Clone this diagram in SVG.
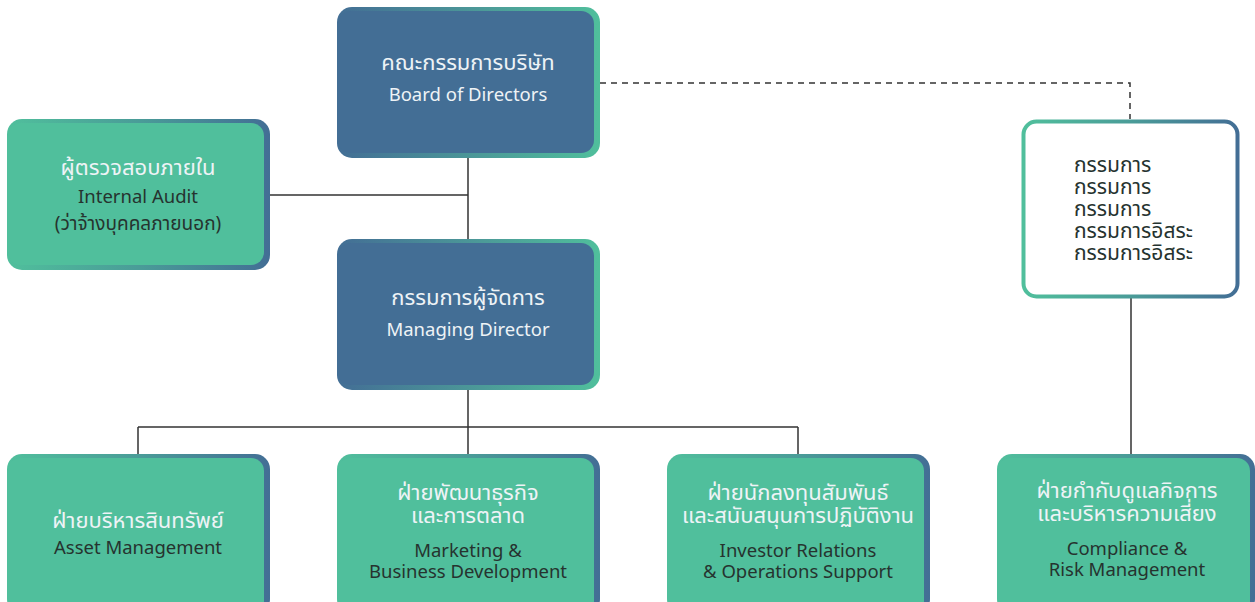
<svg xmlns="http://www.w3.org/2000/svg" width="1255" height="602" viewBox="0 0 1255 602">
<defs>
<linearGradient id="gBlue" x1="0" y1="0" x2="1" y2="0">
<stop offset="0" stop-color="#436E95"/><stop offset="0.55" stop-color="#4C9A98"/><stop offset="1" stop-color="#50BF9C"/>
</linearGradient>
<linearGradient id="gGreen" x1="0" y1="0" x2="1" y2="0">
<stop offset="0" stop-color="#50BF9C"/><stop offset="0.5" stop-color="#4A9C98"/><stop offset="1" stop-color="#436E95"/>
</linearGradient>
<style>
.fb{fill:#436E95}
.fg{fill:#50BF9C}
.th{font-family:"Noto Sans Thai","Noto Sans","DejaVu Sans",sans-serif;font-size:22px;text-anchor:middle}
.en{font-family:"Noto Sans","Open Sans",sans-serif;font-size:18.5px;text-anchor:middle}
.w{fill:#EEF3F6}
.d{fill:#26332F}
.ln{stroke:#333;stroke-width:1.5;fill:none}
.cm{font-family:"Noto Sans Thai","Noto Sans","DejaVu Sans",sans-serif;font-size:21px}
</style>
</defs>
<g id="connectors">
<path class="ln" d="M468 158V240M270 195H468M468 390V427M138 427H798M138 427V455M468 427V455M798 427V455M1131 298V455"/>
<path class="ln" stroke-dasharray="6 5" d="M600 83H1130V119"/>
</g>
<g id="board">
<rect x="337" y="7" width="263" height="151" rx="15" fill="url(#gBlue)"/>
<rect x="338" y="11" width="256" height="142" rx="13" class="fb"/>
<text class="th w" x="468" y="70">คณะกรรมการบริษัท</text>
<text class="en w" x="468" y="101">Board of Directors</text>
</g>
<g id="audit">
<rect x="7" y="119" width="263" height="151" rx="15" fill="url(#gGreen)"/>
<rect x="8" y="123" width="256" height="142" rx="13" class="fg"/>
<text class="th w" x="138" y="175">ผู้ตรวจสอบภายใน</text>
<text class="en d" x="138" y="203">Internal Audit</text>
<text class="th d" x="138" y="230" style="font-size:19px">(ว่าจ้างบุคคลภายนอก)</text>
</g>
<g id="md">
<rect x="337" y="239" width="263" height="151" rx="15" fill="url(#gBlue)"/>
<rect x="338" y="243" width="256" height="142" rx="13" class="fb"/>
<text class="th w" x="468" y="305">กรรมการผู้จัดการ</text>
<text class="en w" x="468" y="336">Managing Director</text>
</g>
<g id="committee">
<rect x="1023.5" y="121.5" width="214" height="175" rx="13" fill="#fff" stroke="url(#gGreen)" stroke-width="4"/>
<g class="d cm">
<text x="1074" y="172">กรรมการ</text>
<text x="1074" y="194">กรรมการ</text>
<text x="1074" y="216">กรรมการ</text>
<text x="1074" y="238">กรรมการอิสระ</text>
<text x="1074" y="260">กรรมการอิสระ</text>
</g>
</g>
<g id="asset">
<rect x="7" y="454" width="263" height="160" rx="15" fill="url(#gGreen)"/>
<rect x="8" y="458" width="256" height="160" rx="13" class="fg"/>
<text class="th w" x="138" y="528">ฝ่ายบริหารสินทรัพย์</text>
<text class="en d" x="138" y="554">Asset Management</text>
</g>
<g id="marketing">
<rect x="337" y="454" width="263" height="160" rx="15" fill="url(#gGreen)"/>
<rect x="338" y="458" width="256" height="160" rx="13" class="fg"/>
<text class="th w" x="468" y="500">ฝ่ายพัฒนาธุรกิจ</text>
<text class="th w" x="468" y="523">และการตลาด</text>
<text class="en d" x="468" y="557">Marketing &amp;</text>
<text class="en d" x="468" y="578">Business Development</text>
</g>
<g id="ir">
<rect x="667" y="454" width="263" height="160" rx="15" fill="url(#gGreen)"/>
<rect x="668" y="458" width="256" height="160" rx="13" class="fg"/>
<text class="th w" x="798" y="500">ฝ่ายนักลงทุนสัมพันธ์</text>
<text class="th w" x="798" y="523">และสนับสนุนการปฏิบัติงาน</text>
<text class="en d" x="798" y="557">Investor Relations</text>
<text class="en d" x="798" y="578">&amp; Operations Support</text>
</g>
<g id="compliance">
<rect x="997" y="454" width="258" height="160" rx="15" fill="url(#gGreen)"/>
<rect x="998" y="458" width="252" height="160" rx="13" class="fg"/>
<text class="th w" x="1127" y="498">ฝ่ายกำกับดูแลกิจการ</text>
<text class="th w" x="1127" y="521">และบริหารความเสี่ยง</text>
<text class="en d" x="1127" y="555">Compliance &amp;</text>
<text class="en d" x="1127" y="576">Risk Management</text>
</g>
</svg>
